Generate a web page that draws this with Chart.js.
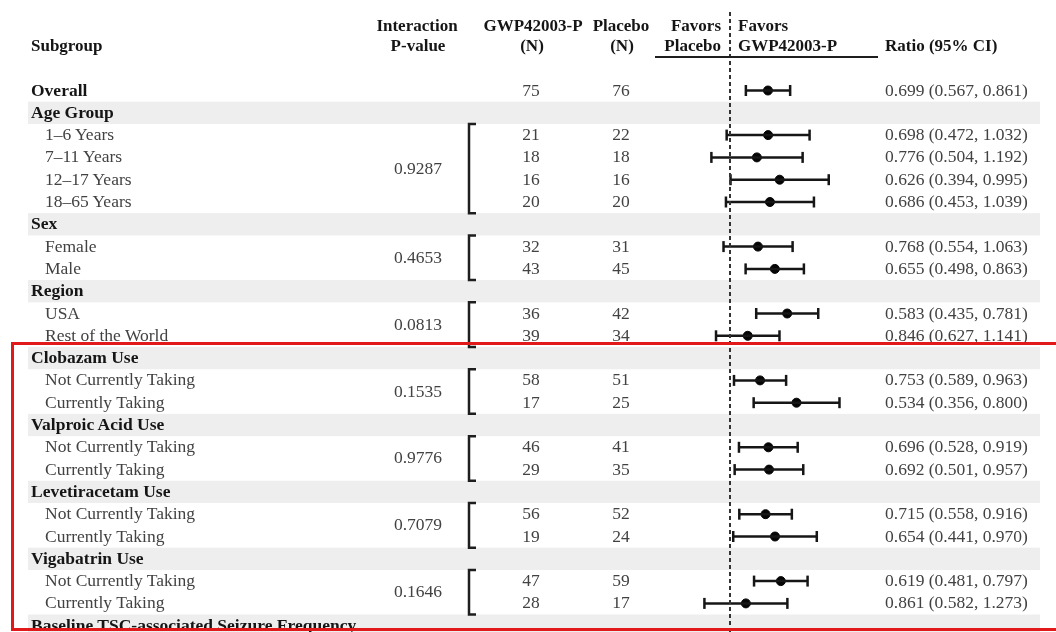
<!DOCTYPE html>
<html>
<head>
<meta charset="utf-8">
<script src="https://cdn.jsdelivr.net/npm/chart.js@4"></script>
<style>
  body { margin: 0; background: #fff; }
  #wrap { position: relative; width: 1056px; height: 632px; overflow: hidden; background: #fff;
          font-family: 'Liberation Serif', 'Times New Roman', serif; }
  #forest { position: absolute; left: 0; top: 0; }
  .t { position: absolute; white-space: nowrap; line-height: 1; font-size: 17.5px; color: #424242; }
  .b { font-weight: bold; color: #151515; }
  .h { font-weight: bold; color: #151515; font-size: 17px; }
  #box { position: absolute; left: 11px; top: 342px; width: 1100px; height: 283px;
         border: 3.5px solid #e2191b; }
</style>
</head>
<body>
<div id="wrap">
  <canvas id="forest" width="1056" height="632"></canvas>
  <div id="box"></div>
</div>
<script>
// Rows of the table, top to bottom
const labels = [
    'Overall',
    'Age Group', '1–6 Years', '7–11 Years', '12–17 Years', '18–65 Years',
    'Sex', 'Female', 'Male',
    'Region', 'USA', 'Rest of the World',
    'Clobazam Use', 'Not Currently Taking', 'Currently Taking',
    'Valproic Acid Use', 'Not Currently Taking', 'Currently Taking',
    'Levetiracetam Use', 'Not Currently Taking', 'Currently Taking',
    'Vigabatrin Use', 'Not Currently Taking', 'Currently Taking',
    'Baseline TSC-associated Seizure Frequency'
];
const gwpN     = [75, null, 21, 18, 16, 20, null, 32, 43, null, 36, 39, null, 58, 17, null, 46, 29, null, 56, 19, null, 47, 28, null];
const placeboN = [76, null, 22, 18, 16, 20, null, 31, 45, null, 42, 34, null, 51, 25, null, 41, 35, null, 52, 24, null, 59, 17, null];
const ratio  = [0.699, null, 0.698, 0.776, 0.626, 0.686, null, 0.768, 0.655, null, 0.583, 0.846, null, 0.753, 0.534, null, 0.696, 0.692, null, 0.715, 0.654, null, 0.619, 0.861, null];
const ciLow  = [0.567, null, 0.472, 0.504, 0.394, 0.453, null, 0.554, 0.498, null, 0.435, 0.627, null, 0.589, 0.356, null, 0.528, 0.501, null, 0.558, 0.441, null, 0.481, 0.582, null];
const ciHigh = [0.861, null, 1.032, 1.192, 0.995, 1.039, null, 1.063, 0.863, null, 0.781, 1.141, null, 0.963, 0.800, null, 0.919, 0.957, null, 0.916, 0.970, null, 0.797, 1.273, null];

// Interaction p-values and the rows each one covers
const pValues = ['0.9287', '0.4653', '0.0813', '0.1535', '0.9776', '0.7079', '0.1646'];
const pGroups = [[2, 5], [7, 8], [10, 11], [13, 14], [16, 17], [19, 20], [22, 23]];

// layout
const W = 1056, H = 632;
const FIRST_ROW_Y = 90.5, ROW_H = 22.3;
const REF_X = 730, PX_PER_LN = 106;

const yMin = -FIRST_ROW_Y / ROW_H;
const yMax = yMin + H / ROW_H;
const xMax = Math.exp(REF_X / PX_PER_LN);
const xMin = Math.exp(-(W - REF_X) / PX_PER_LN);

const rows = labels.map((_, i) => i).filter(i => ratio[i] !== null);
const isGroupHead = i => gwpN[i] === null;

// confidence intervals, one small line per row
const ciSets = rows.map(i => ({
    type: 'scatter',
    showLine: true,
    data: [{ x: ciLow[i], y: i }, { x: ciHigh[i], y: i }],
    borderColor: '#161616',
    borderWidth: 2.5,
    pointStyle: 'line',
    rotation: 90,
    pointRadius: 5.5,
    pointBorderWidth: 2.5,
    pointBorderColor: '#161616'
}));

const bandPlugin = {
    id: 'bands',
    beforeDatasetsDraw(chart) {
        const ctx = chart.ctx, ys = chart.scales.y;
        ctx.save();
        ctx.fillStyle = '#eeeeee';
        labels.forEach((_, i) => {
            if (!isGroupHead(i)) return;
            const y = ys.getPixelForValue(i);
            ctx.fillRect(28, y - ROW_H / 2, 1012, ROW_H);
        });
        ctx.restore();
    },
    afterDatasetsDraw(chart) {
        const ctx = chart.ctx, ys = chart.scales.y;
        ctx.save();
        ctx.strokeStyle = '#1e1e1e';
        ctx.lineWidth = 2.5;
        // brackets next to the p-values
        pGroups.forEach(([a, b]) => {
            const top = ys.getPixelForValue(a - 0.5);
            const bot = ys.getPixelForValue(b + 0.5);
            ctx.beginPath();
            ctx.moveTo(476, top);
            ctx.lineTo(469, top);
            ctx.lineTo(469, bot);
            ctx.lineTo(476, bot);
            ctx.stroke();
        });
        // underline under the favours heading
        ctx.lineWidth = 2;
        ctx.beginPath();
        ctx.moveTo(655, 57);
        ctx.lineTo(878, 57);
        ctx.stroke();
        ctx.restore();
    }
};

const chart = new Chart(document.getElementById('forest'), {
    type: 'scatter',
    data: {
        datasets: [
            {
                // no-effect line at ratio 1
                type: 'scatter',
                showLine: true,
                data: [{ x: 1, y: yMin + 12 / ROW_H }, { x: 1, y: yMax }],
                borderColor: '#333333',
                borderWidth: 2,
                borderDash: [4, 3],
                pointRadius: 0
            },
            ...ciSets,
            {
                type: 'scatter',
                data: rows.map(i => ({ x: ratio[i], y: i })),
                backgroundColor: '#050505',
                borderColor: '#050505',
                pointRadius: 4.5
            }
        ]
    },
    options: {
        responsive: false,
        animation: false,
        layout: { padding: 0, autoPadding: false },
        plugins: { legend: { display: false }, tooltip: { enabled: false } },
        scales: {
            x: { type: 'logarithmic', reverse: true, min: xMin, max: xMax, bounds: 'data', display: false },
            y: { type: 'linear', reverse: true, min: yMin, max: yMax, display: false }
        }
    },
    plugins: [bandPlugin]
});

// text of the table, placed on the chart's own row positions
const wrap = document.getElementById('wrap');
const box = document.getElementById('box');
function addText(str, x, y, align, cls) {
    const s = document.createElement('span');
    s.className = 't ' + (cls || '');
    s.textContent = str;
    s.style.left = x + 'px';
    s.style.top = y + 'px';
    const tx = align === 'center' ? '-50%' : align === 'right' ? '-100%' : '0';
    s.style.transform = 'translate(' + tx + ',-50%)';
    wrap.insertBefore(s, box);
}

const ys = chart.scales.y;

// column headings
addText('Interaction', 417, 25, 'center', 'h');
addText('GWP42003-P', 533, 25, 'center', 'h');
addText('Placebo', 621, 25, 'center', 'h');
addText('Favors', 721, 25, 'right', 'h');
addText('Favors', 738, 25, 'left', 'h');
addText('Subgroup', 31, 45, 'left', 'h');
addText('P-value', 418, 45, 'center', 'h');
addText('(N)', 532, 45, 'center', 'h');
addText('(N)', 622, 45, 'center', 'h');
addText('Placebo', 721, 45, 'right', 'h');
addText('GWP42003-P', 738, 45, 'left', 'h');
addText('Ratio (95% CI)', 885, 45, 'left', 'h');

labels.forEach((lab, i) => {
    const y = ys.getPixelForValue(i);
    if (isGroupHead(i) || i === 0) {
        addText(lab, 31, y, 'left', 'b');
    } else {
        addText(lab, 45, y, 'left');
    }
    if (gwpN[i] !== null) {
        addText(String(gwpN[i]), 531, y, 'center');
        addText(String(placeboN[i]), 621, y, 'center');
        addText(ratio[i].toFixed(3) + ' (' + ciLow[i].toFixed(3) + ', ' + ciHigh[i].toFixed(3) + ')', 885, y, 'left');
    }
});

pGroups.forEach(([a, b], k) => {
    addText(pValues[k], 418, ys.getPixelForValue((a + b) / 2), 'center');
});
</script>
</body>
</html>
